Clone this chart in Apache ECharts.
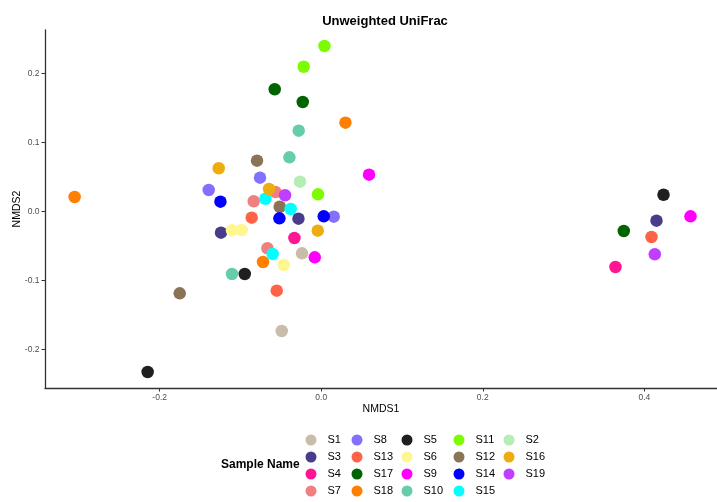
<!DOCTYPE html>
<html>
<head>
<meta charset="utf-8">
<script src="https://cdn.jsdelivr.net/npm/echarts@6/dist/echarts.min.js"></script>
<style>html,body{margin:0;padding:0;background:#fff;}#c{width:717px;height:502px;}</style>
</head>
<body>
<div id="c"></div>
<script>
// Sample names in legend order (column-major, 4 rows)
const sampleNames = ['S1','S3','S4','S7','S8','S13','S17','S18','S5','S6','S9','S10','S11','S12','S14','S15','S2','S16','S19'];
const sampleColors = ['#C9BCAB','#483D8B','#FF1493','#F08080','#8470FF','#FF6347','#006400','#FF7F00','#1F1F1F','#FFF68F','#FF00FF','#66CDAA','#7CFC00','#8B7355','#0000FF','#00FFFF','#B4EEB4','#EEAD0E','#BF3EFF'];
// Points: sample, NMDS1, NMDS2
const pointSample = ['S1','S1','S2','S3','S3','S3','S4','S4','S5','S5','S5','S6','S6','S6','S7','S7','S7','S8','S8','S8','S9','S9','S9','S10','S10','S10','S11','S11','S11','S12','S12','S12','S13','S13','S13','S14','S14','S14','S15','S15','S15','S16','S16','S16','S17','S17','S17','S18','S18','S18','S19','S19'];
const pointNMDS1 = [-0.0238,-0.0489,-0.0263,-0.0282,-0.1241,0.4151,-0.0332,0.3643,-0.2149,-0.0947,0.4238,-0.1105,-0.0985,-0.0464,-0.0567,-0.0836,-0.0666,-0.0758,-0.1393,0.0155,0.0592,-0.0080,0.4572,-0.0279,-0.0394,-0.1105,0.0040,-0.0217,-0.0040,-0.0795,-0.0514,-0.1752,-0.0861,-0.0551,0.4089,-0.1248,-0.0518,0.0031,-0.0691,-0.0378,-0.0601,-0.1269,-0.0646,-0.0043,-0.0576,-0.0229,0.3746,-0.3053,0.0300,-0.0721,-0.0448,0.4130];
const pointNMDS2 = [-0.0603,-0.1729,0.0435,-0.0101,-0.0304,-0.0130,-0.0381,-0.0801,-0.2323,-0.0903,0.0246,-0.0270,-0.0265,-0.0772,0.0286,0.0151,-0.0530,0.0493,0.0314,-0.0072,0.0536,-0.0661,-0.0067,0.1174,0.0788,-0.0903,0.2401,0.2101,0.0252,0.0739,0.0072,-0.1183,-0.0087,-0.1145,-0.0367,0.0145,-0.0096,-0.0067,0.0188,0.0039,-0.0613,0.0629,0.0329,-0.0275,0.1774,0.1590,-0.0280,0.0213,0.1290,-0.0729,0.0238,-0.0617];
const xTicks = [-0.2, 0.0, 0.2, 0.4];
const yTicks = [-0.2, -0.1, 0.0, 0.1, 0.2];

const FONT = '"Liberation Sans", Arial, Helvetica, sans-serif';
const chart = echarts.init(document.getElementById('c'), null, {renderer: 'canvas'});

const series = sampleNames.map((name, i) => ({
  name: name,
  type: 'scatter',
  symbol: 'circle',
  symbolSize: 12.5,
  itemStyle: {color: sampleColors[i], opacity: 1},
  emphasis: {disabled: true},
  data: pointSample.map((s, k) => s === name ? [pointNMDS1[k], pointNMDS2[k]] : null).filter(d => d)
}));

const colX = [311, 357, 407, 459, 509];
const legends = colX.map((cx, c) => ({
  orient: 'vertical',
  left: cx - 5.5,
  top: 434.5,
  padding: 0,
  itemWidth: 11,
  itemHeight: 11,
  itemGap: 6,
  icon: 'circle',
  selectedMode: false,
  textStyle: {fontFamily: FONT, fontSize: 11, color: '#000', padding: [0, 0, 0, 6]},
  data: sampleNames.slice(c * 4, c * 4 + 4)
}));

const axisCommon = {
  type: 'value',
  splitLine: {show: false},
  axisLine: {show: true, onZero: false, lineStyle: {color: '#333', width: 1.3}},
  axisTick: {show: true, length: 3.5, lineStyle: {color: '#333'}},
  axisLabel: {fontFamily: FONT, fontSize: 8.5, color: '#4D4D4D', formatter: v => v.toFixed(1)},
  nameLocation: 'middle',
  nameMoveOverlap: false,
  nameTextStyle: {fontFamily: FONT, fontSize: 10.5, color: '#000'}
};

chart.setOption({
  animation: false,
  backgroundColor: '#fff',
  title: {
    text: 'Unweighted UniFrac',
    left: 380, top: 10, textAlign: 'center',
    textStyle: {fontFamily: FONT, fontSize: 13, fontWeight: 'bold', color: '#000'}
  },
  grid: {left: 45, right: 0, top: 30, bottom: 114, containLabel: false, outerBoundsMode: 'none'},
  xAxis: Object.assign({}, axisCommon, {
    min: -0.342, max: 0.49,
    name: 'NMDS1', nameGap: 15.5,
    axisTick: Object.assign({}, axisCommon.axisTick, {customValues: xTicks}),
    axisLabel: Object.assign({}, axisCommon.axisLabel, {customValues: xTicks, margin: 5})
  }),
  yAxis: Object.assign({}, axisCommon, {
    min: -0.2555, max: 0.2633,
    name: 'NMDS2', nameGap: 22, nameRotate: 90,
    axisTick: Object.assign({}, axisCommon.axisTick, {customValues: yTicks}),
    axisLabel: Object.assign({}, axisCommon.axisLabel, {customValues: yTicks, margin: 5.5})
  }),
  legend: legends,
  graphic: [{
    type: 'text', left: 221, top: 459,
    style: {text: 'Sample Name', fontFamily: FONT, fontSize: 12, fontWeight: 'bold', fill: '#000'}
  }],
  series: series
});
</script>
</body>
</html>
